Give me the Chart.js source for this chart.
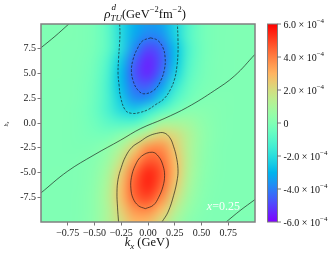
<!DOCTYPE html>
<html>
<head>
<meta charset="utf-8">
<script src="https://cdn.jsdelivr.net/npm/chart.js@4.4.1/dist/chart.umd.min.js"></script>
<style>
  html, body { margin: 0; padding: 0; background: #fff; }
</style>
</head>
<body>
<canvas id="chart" width="335" height="258"></canvas>
<script>
// grid of rho values, units of 1e-4 GeV^-2 fm^-2
const kxValues = [-1, -0.875, -0.75, -0.625, -0.5, -0.375, -0.25, -0.125, 0, 0.125, 0.25, 0.375, 0.5, 0.625, 0.75, 0.875, 1];
const bzValues = [10, 8.75, 7.5, 6.25, 5, 3.75, 2.5, 1.25, 0, -1.25, -2.5, -3.75, -5, -6.25, -7.5, -8.75, -10];
const rhoRows = [
  [0.02, 0.01, 0, -0.03, -0.20, -0.85, -2.15, -3.10, -3.50, -3.30, -2.30, -1.10, -0.35, -0.08, -0.02, 0, 0],
  [0, 0, 0, -0.03, -0.20, -0.80, -2.10, -3.30, -3.95, -3.75, -2.40, -1.05, -0.35, -0.08, -0.01, 0, 0],
  [0, 0, -0.01, -0.04, -0.22, -0.81, -2.10, -3.84, -4.92, -4.42, -2.79, -1.23, -0.38, -0.08, -0.01, 0, 0],
  [0, 0, -0.01, -0.06, -0.30, -1.06, -2.60, -4.50, -5.44, -4.62, -2.76, -1.15, -0.34, -0.07, -0.01, 0, 0],
  [0, 0, -0.01, -0.08, -0.37, -1.24, -2.88, -4.70, -5.38, -4.32, -2.43, -0.96, -0.27, -0.05, -0.01, 0, 0.01],
  [0, -0.01, -0.02, -0.10, -0.42, -1.31, -2.84, -4.31, -4.59, -3.43, -1.80, -0.66, -0.17, -0.03, 0.01, 0.01, 0.01],
  [-0.01, -0.01, -0.02, -0.11, -0.45, -1.26, -2.52, -3.75, -3.65, -2.36, -1.14, -0.38, -0.03, 0.05, 0.03, 0.02, 0.01],
  [-0.01, -0.02, -0.03, -0.15, -0.51, -1.22, -2.06, -2.42, -1.70, -0.90, -0.25, 0.20, 0.20, 0.10, 0.04, 0.02, 0.01],
  [0, -0.01, -0.03, -0.12, -0.38, -0.80, -1.00, -0.94, -0.15, 0.94, 1.00, 0.80, 0.38, 0.12, 0.03, 0.01, 0],
  [-0.01, -0.02, -0.04, -0.10, -0.20, -0.20, 0.25, 0.90, 1.70, 2.42, 2.06, 1.22, 0.51, 0.15, 0.03, 0.02, 0.01],
  [-0.01, -0.02, -0.03, -0.05, 0.03, 0.38, 1.14, 2.36, 3.65, 3.75, 2.52, 1.26, 0.45, 0.11, 0.02, 0.01, 0.01],
  [-0.01, -0.01, -0.01, 0.03, 0.17, 0.66, 1.80, 3.43, 4.59, 4.31, 2.84, 1.31, 0.42, 0.10, 0.02, 0.01, 0],
  [-0.01, 0, 0.01, 0.05, 0.27, 0.96, 2.43, 4.32, 5.38, 4.70, 2.88, 1.24, 0.37, 0.08, 0.01, 0, 0],
  [0, 0, 0.01, 0.07, 0.34, 1.15, 2.76, 4.62, 5.44, 4.50, 2.60, 1.06, 0.30, 0.06, 0.01, 0, 0],
  [0, 0, 0.01, 0.08, 0.38, 1.23, 2.79, 4.42, 4.92, 3.84, 2.10, 0.81, 0.22, 0.04, 0.01, 0, 0],
  [0, 0, 0.01, 0.09, 0.38, 1.14, 2.44, 3.66, 3.84, 2.83, 1.47, 0.53, 0.14, 0.02, 0, 0, 0],
  [0, 0, 0.02, 0.10, 0.40, 1.15, 2.05, 2.95, 2.85, 2.00, 0.95, 0.30, 0.07, 0.01, 0, -0.01, -0.02]
];

const xTicks = [-0.75, -0.5, -0.25, 0, 0.25, 0.5, 0.75];
const yTicks = [-7.5, -5, -2.5, 0, 2.5, 5, 7.5];
const cbTicks = [-6, -4, -2, 0, 2, 4, 6];
const cbMin = -6, cbMax = 6;

// contour lines, [kx, bz]
const zeroLine = [[-1, -7.06], [-0.755, -4.9], [-0.505, -3.23], [-0.256, -1.73], [-0.068, -0.56], [0.15, 0.44], [0.37, 1.6], [0.62, 3.27], [0.81, 4.77], [1, 6.94]];
const zeroCornerTL = [[-1, 7.6], [-0.87, 8.75], [-0.74, 10]];
const zeroCornerBR = [[0.73, -10], [0.86, -8.85], [1, -7.73]];
const negOuter = [[-0.265, 10], [-0.262, 9], [-0.266, 8], [-0.275, 6.5], [-0.28, 5.0], [-0.27, 3.8], [-0.256, 2.6], [-0.21, 1.27], [-0.15, 0.97], [-0.08, 1.05], [0.0, 1.35], [0.07, 1.85], [0.15, 2.45], [0.21, 3.4], [0.25, 4.5], [0.27, 5.7], [0.28, 7.0], [0.28, 8.5], [0.275, 10]];
const negInner = [[0.025, 8.6], [0.09, 8.35], [0.14, 7.6], [0.16, 6.6], [0.155, 5.5], [0.12, 4.3], [0.06, 3.35], [-0.04, 2.95], [-0.10, 3.4], [-0.14, 4.3], [-0.155, 5.3], [-0.14, 6.4], [-0.10, 7.5], [-0.05, 8.3], [0.025, 8.6]];
const posOuter = [[0.13, -10], [0.187, -9.0], [0.24, -7.3], [0.275, -5.6], [0.28, -4.6], [0.265, -3.4], [0.24, -2.4], [0.205, -1.5], [0.15, -1.0], [0.08, -1.05], [0.0, -1.35], [-0.07, -1.85], [-0.15, -2.45], [-0.21, -3.4], [-0.25, -4.5], [-0.28, -5.7], [-0.29, -7.0], [-0.285, -8.5], [-0.275, -10]];
const posInner = [[-0.025, -8.65], [-0.09, -8.35], [-0.14, -7.6], [-0.16, -6.6], [-0.155, -5.5], [-0.12, -4.3], [-0.06, -3.35], [0.04, -2.95], [0.10, -3.4], [0.14, -4.3], [0.155, -5.3], [0.14, -6.4], [0.10, -7.5], [0.05, -8.3], [-0.025, -8.65]];

const panelLabelPos = [0.55, -8.45];

const SERIF = '"Liberation Serif", "DejaVu Serif", serif';

// matplotlib "rainbow" colormap
function rainbow(t) {
  t = Math.min(1, Math.max(0, t));
  const clip = v => Math.round(Math.min(1, Math.max(0, v)) * 255);
  return [clip(Math.abs(2 * t - 0.5)), clip(Math.sin(Math.PI * t)), clip(Math.cos(Math.PI * t / 2))];
}

function font(size, italic) {
  return `${italic ? 'italic ' : ''}${size}px ${SERIF}`;
}

// draws a row of text pieces with super/subscripts
function drawParts(ctx, parts, x, y, align) {
  let width = 0;
  parts.forEach(p => {
    ctx.font = font(p.size, p.italic);
    p.w = ctx.measureText(p.text).width;
    if (!p.noAdvance) width += p.w + (p.gap || 0);
  });
  let cx = align === 'center' ? x - width / 2 : x;
  parts.forEach(p => {
    ctx.font = font(p.size, p.italic);
    ctx.fillText(p.text, cx + (p.gap || 0), y + (p.dy || 0));
    if (!p.noAdvance) cx += p.w + (p.gap || 0);
  });
}

const heatmapPlugin = {
  id: 'heatmap',
  beforeDatasetsDraw(chart) {
    const { ctx, chartArea, scales: { x, y } } = chart;
    const off = document.createElement('canvas');
    off.width = kxValues.length;
    off.height = bzValues.length;
    const octx = off.getContext('2d');
    const img = octx.createImageData(off.width, off.height);
    rhoRows.forEach((row, j) => {
      row.forEach((v, i) => {
        const [r, g, b] = rainbow((v - cbMin) / (cbMax - cbMin));
        const k = (j * off.width + i) * 4;
        img.data[k] = r;
        img.data[k + 1] = g;
        img.data[k + 2] = b;
        img.data[k + 3] = 255;
      });
    });
    octx.putImageData(img, 0, 0);

    const dx = (kxValues[1] - kxValues[0]) / 2;
    const dy = (bzValues[0] - bzValues[1]) / 2;
    const left = x.getPixelForValue(kxValues[0] - dx);
    const right = x.getPixelForValue(kxValues[kxValues.length - 1] + dx);
    const top = y.getPixelForValue(bzValues[0] + dy);
    const bottom = y.getPixelForValue(bzValues[bzValues.length - 1] - dy);

    ctx.save();
    ctx.beginPath();
    ctx.rect(chartArea.left, chartArea.top, chartArea.width, chartArea.height);
    ctx.clip();
    ctx.imageSmoothingEnabled = true;
    ctx.imageSmoothingQuality = 'high';
    ctx.drawImage(off, left, top, right - left, bottom - top);
    ctx.restore();
  }
};

const decorPlugin = {
  id: 'decor',
  afterDatasetsDraw(chart) {
    const { ctx, chartArea, scales: { x, y } } = chart;
    ctx.save();
    // panel label
    ctx.fillStyle = 'rgba(255,255,255,0.95)';
    ctx.textBaseline = 'middle';
    drawParts(ctx, [
      { text: 'x', size: 12, italic: true },
      { text: '=0.25', size: 12 }
    ], x.getPixelForValue(panelLabelPos[0]), y.getPixelForValue(panelLabelPos[1]), 'left');

    // axes frame
    ctx.strokeStyle = '#808080';
    ctx.lineWidth = 1.5;
    ctx.strokeRect(chartArea.left, chartArea.top, chartArea.width, chartArea.height);
    ctx.restore();
  },
  afterDraw(chart) {
    const { ctx, chartArea, scales: { cb } } = chart;
    ctx.save();
    ctx.fillStyle = '#111';
    ctx.textBaseline = 'alphabetic';
    const midX = (chartArea.left + chartArea.right) / 2;

    // title
    drawParts(ctx, [
      { text: 'ρ', size: 13, italic: true },
      { text: 'd', size: 9, italic: true, dy: -8, noAdvance: true, gap: 1 },
      { text: 'TU', size: 9, italic: true, dy: 3.5 },
      { text: '(GeV', size: 12.5 },
      { text: '−2', size: 8.5, dy: -5.5 },
      { text: 'fm', size: 12.5 },
      { text: '−2', size: 8.5, dy: -5.5 },
      { text: ')', size: 12.5 }
    ], midX - 3, 17.5, 'center');

    // x axis label
    drawParts(ctx, [
      { text: 'k', size: 12.5, italic: true },
      { text: 'x', size: 9, italic: true, dy: 3 },
      { text: ' (GeV)', size: 12.5 }
    ], midX - 1, 245.5, 'center');

    // y axis label (tiny in the reference)
    ctx.save();
    ctx.translate(7.5, (chartArea.top + chartArea.bottom) / 2 + 1);
    ctx.rotate(-Math.PI / 2);
    drawParts(ctx, [
      { text: 'b', size: 6, italic: true },
      { text: 'z', size: 4.5, italic: true, dy: 1.5 }
    ], 0, 0, 'center');
    ctx.restore();

    // colorbar
    const cbLeft = chartArea.right + 12.5;
    const cbWidth = 10;
    const cbTop = cb.getPixelForValue(cbMax);
    const cbBottom = cb.getPixelForValue(cbMin);
    const grad = ctx.createLinearGradient(0, cbBottom, 0, cbTop);
    for (let i = 0; i <= 24; i++) {
      const [r, g, b] = rainbow(i / 24);
      grad.addColorStop(i / 24, `rgb(${r},${g},${b})`);
    }
    ctx.fillStyle = grad;
    ctx.fillRect(cbLeft, cbTop, cbWidth, cbBottom - cbTop);
    ctx.strokeStyle = '#808080';
    ctx.lineWidth = 1;
    ctx.strokeRect(cbLeft, cbTop, cbWidth, cbBottom - cbTop);

    ctx.strokeStyle = '#555';
    ctx.lineWidth = 0.8;
    ctx.fillStyle = '#111';
    cbTicks.forEach(v => {
      const py = cb.getPixelForValue(v);
      ctx.beginPath();
      ctx.moveTo(cbLeft + cbWidth, py);
      ctx.lineTo(cbLeft + cbWidth + 3.5, py);
      ctx.stroke();
      const parts = v === 0
        ? [{ text: '0', size: 10 }]
        : [{ text: `${v < 0 ? '-' : ''}${Math.abs(v).toFixed(1)} × 10`, size: 10 }, { text: '−4', size: 7, dy: -5 }];
      drawParts(ctx, parts, cbLeft + cbWidth + 6, py + 3.5, 'left');
    });
    ctx.restore();
  }
};

function contourDataset(points, dashed) {
  return {
    data: points.map(([kx, bz]) => ({ x: kx, y: bz })),
    showLine: true,
    pointRadius: 0,
    borderColor: 'rgba(20,20,20,0.8)',
    borderWidth: 0.8,
    borderDash: dashed ? [2.5, 1.5] : [],
    tension: 0.4,
    fill: false
  };
}

const tickFont = { family: SERIF, size: 10 };

new Chart(document.getElementById('chart'), {
  type: 'scatter',
  data: {
    datasets: [
      contourDataset(zeroLine, false),
      contourDataset(zeroCornerTL, false),
      contourDataset(zeroCornerBR, false),
      contourDataset(negOuter, true),
      contourDataset(negInner, true),
      contourDataset(posOuter, false),
      contourDataset(posInner, false)
    ]
  },
  options: {
    responsive: false,
    animation: false,
    layout: { padding: { left: 0, right: 80, top: 24, bottom: 0 } },
    plugins: { legend: { display: false }, tooltip: { enabled: false } },
    scales: {
      x: {
        type: 'linear',
        min: -1,
        max: 1,
        afterBuildTicks: scale => { scale.ticks = xTicks.map(v => ({ value: v })); },
        afterFit: scale => { scale.height = 36; },
        ticks: {
          font: tickFont,
          color: '#222',
          padding: 1.5,
          maxRotation: 0,
          callback: v => (v < 0 ? '\u2212' : '') + Math.abs(v).toFixed(2)
        },
        grid: { drawOnChartArea: false, tickLength: 3.5, color: '#555', lineWidth: 0.8 },
        border: { display: false }
      },
      y: {
        type: 'linear',
        min: -10,
        max: 10,
        afterBuildTicks: scale => { scale.ticks = yTicks.map(v => ({ value: v })); },
        afterFit: scale => { scale.width = 41; },
        ticks: {
          font: tickFont,
          color: '#222',
          padding: 1.5,
          callback: v => v.toFixed(1)
        },
        grid: { drawOnChartArea: false, tickLength: 3.5, color: '#555', lineWidth: 0.8 },
        border: { display: false }
      },
      cb: {
        type: 'linear',
        axis: 'y',
        position: 'right',
        min: cbMin,
        max: cbMax,
        display: false
      }
    }
  },
  plugins: [heatmapPlugin, decorPlugin]
});
</script>
</body>
</html>
